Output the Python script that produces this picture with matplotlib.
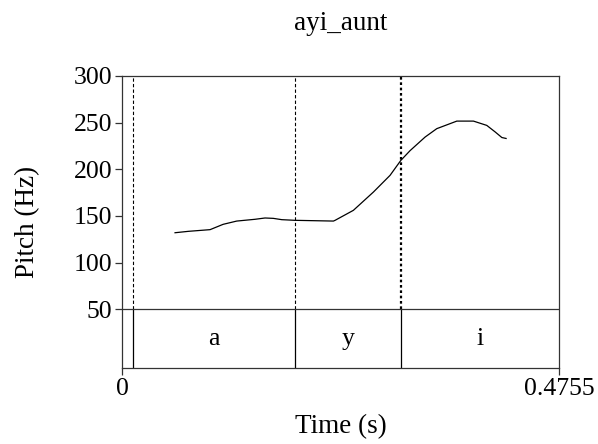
import matplotlib
matplotlib.use("Agg")
import matplotlib.pyplot as plt

plt.rcParams['font.family'] = ['Liberation Serif', 'DejaVu Serif']

# pitch track (s, Hz)
t_pitch = [0.0577, 0.0722, 0.0958, 0.1100, 0.1248, 0.1447, 0.1556, 0.1646,
           0.1738, 0.1880, 0.2300, 0.2318, 0.2517, 0.2735, 0.2916, 0.3033,
           0.3134, 0.3297, 0.3424, 0.3642, 0.3823, 0.3968, 0.4059, 0.4132,
           0.4178]
f0 = [132.0, 133.5, 135.3, 141.0, 144.5, 146.4, 147.8, 147.4,
      146.0, 145.3, 144.5, 145.3, 156.0, 175.6, 193.5, 209.5,
      220.0, 234.5, 243.5, 251.6, 251.6, 247.0, 240.0, 234.0,
      233.0]

# segment tier
boundaries = [0.012, 0.188, 0.3036]
segments = ['a', 'y', 'i']
t_end = 0.4755

fmin, fmax = 50, 300
tier_bottom = -13
fs = 18.5

fig = plt.figure(figsize=(5.98, 4.44), dpi=100)
ax = fig.add_axes([0.204, 0.171, 0.731, 0.658])

ax.plot(t_pitch, f0, color='black', lw=0.9)

# boundaries: solid inside the tier, dashed/dotted through the pitch area
styles = [(0, (3, 2)), (0, (3, 2)), (0, (1.2, 1.2))]
widths = [0.8, 0.8, 1.6]
for b, ls, lw in zip(boundaries, styles, widths):
    ax.plot([b, b], [fmin, fmax], color='black', lw=lw, ls=ls)
    ax.plot([b, b], [tier_bottom, fmin], color='black', lw=0.9)
ax.axhline(fmin, color='#333333', lw=0.9)

edges = boundaries + [t_end]
for lab, a, b in zip(segments, edges[:-1], edges[1:]):
    ax.text((a + b) / 2, (tier_bottom + fmin) / 2, lab, ha='center', va='center',
            fontsize=fs)

ax.set_xlim(0, t_end)
ax.set_ylim(tier_bottom, fmax)
ax.set_yticks([50, 100, 150, 200, 250, 300])
ax.set_xticks([0, t_end])
ax.set_xticklabels(['0', '0.4755'])
ax.tick_params(labelsize=fs, length=5, width=0.9, color='#333333', pad=2)
for s in ax.spines.values():
    s.set_linewidth(0.9)
    s.set_color('#333333')

ax.set_xlabel('Time (s)', fontsize=fs + 1, labelpad=10)
ax.set_ylabel('Pitch (Hz)', fontsize=fs + 1, labelpad=24)
ax.set_title('ayi_aunt', fontsize=fs + 1, pad=33)

fig.savefig('out.png', dpi=100)
